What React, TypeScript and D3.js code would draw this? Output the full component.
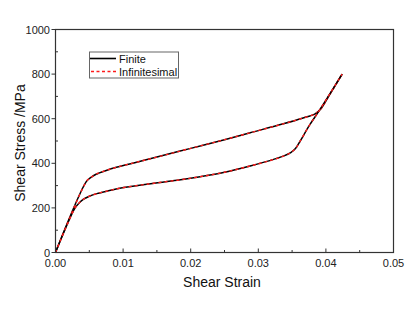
import React from 'react';
import * as d3 from 'd3';

// strain / stress (MPa)
const upperStrain = [0, 0.0046, 0.0052, 0.006, 0.0075, 0.009, 0.012, 0.015, 0.02, 0.025, 0.0288, 0.0337, 0.0365, 0.0384, 0.0392, 0.0404, 0.0424];
const upperStress = [0, 320, 336, 351, 368, 382, 405, 428, 467, 506, 537, 577, 602, 622, 642, 700, 800];
const lowerStrain = [0, 0.0029, 0.0035, 0.0041, 0.005, 0.0061, 0.008, 0.0095, 0.0137, 0.018, 0.0214, 0.025, 0.0288, 0.0317, 0.0337, 0.0348, 0.0355, 0.0362, 0.0376, 0.0392, 0.0424];
const lowerStress = [0, 200, 222, 238, 252, 264, 278, 288, 307, 324, 340, 360, 388, 412, 432, 448, 466, 500, 572, 645, 800];

const xTicks = [0, 0.01, 0.02, 0.03, 0.04, 0.05];
const xMinor = [0.005, 0.015, 0.025, 0.035, 0.045];
const yTicks = [0, 200, 400, 600, 800, 1000];
const yMinor = [100, 300, 500, 700, 900];
const seriesNames = ['Finite', 'Infinitesimal'];

const W = 415, H = 312;
const left = 55.5, right = 393.5, top = 29.5, bottom = 252.5;
const font = 'Arial, "Liberation Sans", sans-serif';
const red = '#ff1a1a';

const App = () => {
    const x = d3.scaleLinear().domain([0, 0.05]).range([left, right]);
    const y = d3.scaleLinear().domain([0, 1000]).range([bottom, top]);

    const line = d3.line<[number, number]>()
        .x(d => x(d[0]))
        .y(d => y(d[1]))
        .curve(d3.curveCatmullRom.alpha(0.5));

    const upper = line(upperStrain.map((s, i) => [s, upperStress[i]] as [number, number])) || '';
    const lower = line(lowerStrain.map((s, i) => [s, lowerStress[i]] as [number, number])) || '';

    const axisColor = '#333';

    return (
        <svg width={W} height={H} style={{position: 'absolute', left: 0, top: 0, background: '#fff'}}>
            {/* curves */}
            {[upper, lower].map((p, i) => (
                <g key={i} fill="none">
                    <path d={p} stroke="#000" strokeWidth={1.5} />
                    <path d={p} stroke={red} strokeWidth={1.4} strokeDasharray="3,3" />
                </g>
            ))}

            {/* frame */}
            <rect x={left} y={top} width={right - left} height={bottom - top} fill="none" stroke={axisColor} strokeWidth={1.2} />

            {/* x ticks (inward) */}
            {xTicks.map(t => (
                <g key={'x' + t}>
                    <line x1={x(t)} x2={x(t)} y1={bottom} y2={bottom - 4} stroke={axisColor} />
                    <text x={x(t)} y={267} textAnchor="middle" fontSize={11} fontFamily={font} fill="#222">{t.toFixed(2)}</text>
                </g>
            ))}
            {xMinor.map(t => (
                <line key={'xm' + t} x1={x(t)} x2={x(t)} y1={bottom} y2={bottom - 2.5} stroke={axisColor} />
            ))}

            {/* y ticks (major outward, minor inward) */}
            {yTicks.map(t => (
                <g key={'y' + t}>
                    <line x1={left} x2={left - 4} y1={y(t)} y2={y(t)} stroke={axisColor} />
                    <text x={50} y={y(t) + 4} textAnchor="end" fontSize={11} fontFamily={font} fill="#222">{t}</text>
                </g>
            ))}
            {yMinor.map(t => (
                <line key={'ym' + t} x1={left} x2={left + 2.5} y1={y(t)} y2={y(t)} stroke={axisColor} />
            ))}

            {/* axis titles */}
            <text x={222} y={287} textAnchor="middle" fontSize={14} fontFamily={font} fill="#111">Shear Strain</text>
            <text transform="translate(25,143) rotate(-90)" textAnchor="middle" fontSize={14} fontFamily={font} fill="#111">Shear Stress /MPa</text>

            {/* legend */}
            <rect x={89.5} y={52} width={89} height={26} fill="#fff" stroke="#666" strokeWidth={1} />
            {seriesNames.map((name, i) => (
                <g key={name}>
                    {i === 0
                        ? <line x1={90} x2={116} y1={58.5} y2={58.5} stroke="#000" strokeWidth={1.6} />
                        : <line x1={91} x2={116} y1={71.5} y2={71.5} stroke={red} strokeWidth={1.6} strokeDasharray="3,2.5" />}
                    <text x={119} y={62.5 + i * 13} fontSize={11} fontFamily={font} fill="#111">{name}</text>
                </g>
            ))}
        </svg>
    );
};

export default App;
